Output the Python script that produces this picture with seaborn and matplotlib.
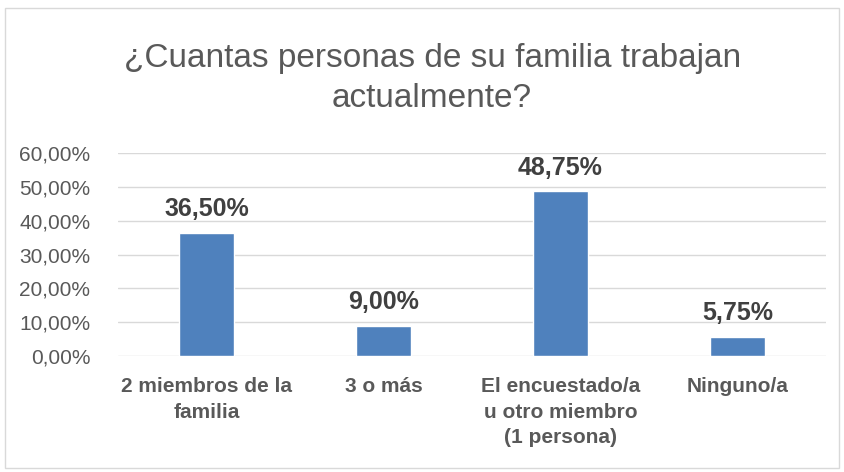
import matplotlib
matplotlib.use('Agg')
import matplotlib.pyplot as plt
import seaborn as sns
import pandas as pd
from matplotlib.patches import Rectangle

# Data
categorias = ['2 miembros de la\nfamilia', '3 o más', 'El encuestado/a\nu otro miembro\n(1 persona)', 'Ninguno/a']
porcentajes = [36.50, 9.00, 48.75, 5.75]
ticks_y = [0, 10, 20, 30, 40, 50, 60]

df = pd.DataFrame({'categoria': categorias, 'pct': porcentajes})

sns.set_style('white')
plt.rcParams['font.family'] = ['Liberation Sans', 'DejaVu Sans']

fig = plt.figure(figsize=(8.44, 4.72), dpi=100)
fig.patches.append(Rectangle((0.006, 0.008), 0.988, 0.975, transform=fig.transFigure,
                             fill=False, edgecolor='#D9D9D9', linewidth=1))
ax = fig.add_axes([0.1398, 0.2458, 0.8389, 0.43])

sns.barplot(data=df, x='categoria', y='pct', color='#4F81BD', width=0.31,
            saturation=1, ax=ax, zorder=3)

ax.set_ylim(0, 60)
ax.set_yticks(ticks_y)
ax.set_yticklabels([f'{t:.2f}%'.replace('.', ',') for t in ticks_y],
                   fontsize=15, color='#595959')
ax.tick_params(axis='y', length=0, pad=20)
ax.tick_params(axis='x', length=0, pad=15)
ax.grid(axis='y', color='#D9D9D9', linewidth=1, zorder=0)
for s in ax.spines.values():
    s.set_visible(False)
ax.set_xlabel('')
ax.set_ylabel('')
for lab in ax.get_xticklabels():
    lab.set_fontsize(15)
    lab.set_fontweight('bold')
    lab.set_color('#595959')
    lab.set_linespacing(1.45)

for i, v in enumerate(porcentajes):
    ax.text(i, v + 3.3, f'{v:.2f}%'.replace('.', ','), ha='center', va='bottom',
            fontsize=18, fontweight='bold', color='#404040')

fig.text(0.512, 0.8337, '¿Cuantas personas de su familia trabajan\nactualmente?',
         ha='center', va='center', fontsize=24, color='#595959', linespacing=1.4)

fig.savefig('out.png', dpi=100)
